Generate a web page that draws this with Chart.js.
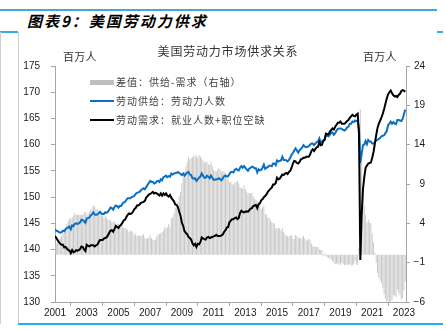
<!DOCTYPE html>
<html>
<head>
<meta charset="utf-8">
<script src="https://cdn.jsdelivr.net/npm/chart.js@4"></script>
<style>
  body { margin: 0; width: 446px; height: 330px; background: #fff; position: relative; overflow: hidden;
         font-family: 'Noto Sans CJK SC', sans-serif; }
  #chart { position: absolute; left: 0; top: 0; }
  .rule { position: absolute; background: #3fa8e0; }
  .vline { position: absolute; width: 1px; background: #cfcfcf; }
  #title { position: absolute; left: 27px; top: 11px; font-size: 15px; font-weight: bold; font-style: italic;
           letter-spacing: 2px; color: #000; line-height: 20px; }
  #chartTitle { position: absolute; left: 0; width: 456px; top: 43px; text-align: center; font-size: 12px;
                letter-spacing: 0.8px; color: #333; line-height: 16px; }
  .unit { position: absolute; top: 49px; font-size: 11px; letter-spacing: 0.3px; color: #333; line-height: 14px; }
  #legend { position: absolute; left: 90px; top: 72px; }
  .legend-row { height: 19px; line-height: 19px; font-size: 10px; letter-spacing: 1px; color: #404040; white-space: nowrap; }
  .swatch { display: inline-block; width: 24px; vertical-align: middle; margin-right: 2px; position: relative; top: -1px; }
</style>
</head>
<body>
<div class="rule" style="left:0; top:9px; width:437px; height:2px;"></div>
<div id="title">图表9：美国劳动力供求</div>
<div class="rule" style="left:0; top:31px; width:18px; height:2px;"></div>
<div class="rule" style="left:437px; top:31px; width:6px; height:2px;"></div>
<div class="vline" style="left:0; top:32px; height:292px;"></div>
<div class="vline" style="left:18px; top:32px; height:292px;"></div>
<div class="rule" style="left:18px; top:323px; width:425px; height:2px; background:#22b0ea;"></div>

<canvas id="chart" width="446" height="330"></canvas>
<div id="chartTitle">美国劳动力市场供求关系</div>
<div class="unit" style="left:63px;">百万人</div>
<div class="unit" style="left:363px;">百万人</div>
<div id="legend"></div>

<script>
// 月度数据，2001年1月起 (百万人)
const startYear = 2001;

// 劳动供给：劳动力人数
const laborSupply = [
  143.8, 143.6, 143.5, 143.3, 143.2, 143.3, 143.6, 143.5, 143.9, 144.1, 144.2, 144.4,
  143.9, 144.6, 144.5, 144.9, 145.0, 144.9, 145.0, 145.2, 145.7, 145.6, 145.4, 145.1,
  145.9, 146.0, 146.1, 146.5, 146.7, 147.1, 146.7, 146.6, 146.7, 146.9, 147.2, 146.9,
  146.8, 146.8, 147.1, 147.0, 147.2, 147.6, 148.0, 147.9, 147.6, 148.1, 148.4, 148.3,
  148.0, 148.3, 148.3, 148.7, 149.0, 149.1, 149.5, 149.8, 149.8, 149.8, 150.0, 150.1,
  150.2, 150.6, 150.8, 150.9, 151.0, 151.3, 151.5, 151.7, 151.5, 151.9, 152.3, 152.7,
  153.1, 152.9, 152.9, 152.6, 152.7, 153.0, 153.1, 152.9, 153.4, 153.2, 153.8, 153.9,
  154.1, 153.8, 154.0, 153.9, 154.5, 154.3, 154.5, 154.6, 154.6, 154.8, 154.6, 154.4,
  154.2, 154.5, 154.1, 154.4, 154.7, 154.8, 154.3, 154.2, 153.6, 153.5, 153.6, 153.1,
  153.4, 153.7, 153.9, 154.5, 154.1, 153.7, 153.7, 154.1, 153.9, 153.6, 154.1, 153.7,
  153.3, 153.3, 153.4, 153.4, 153.6, 153.4, 153.2, 153.6, 154.0, 154.1, 153.9, 154.0,
  154.4, 154.8, 154.8, 154.7, 155.2, 155.4, 155.2, 155.1, 155.6, 155.9, 155.6, 155.9,
  155.6, 155.3, 155.0, 155.4, 155.6, 155.8, 155.7, 155.5, 155.5, 154.7, 155.3, 155.1,
  155.2, 155.6, 156.2, 155.4, 155.6, 155.7, 156.0, 156.0, 155.9, 156.4, 156.4, 156.1,
  157.0, 156.8, 156.9, 157.0, 157.7, 157.1, 157.1, 157.0, 156.8, 157.1, 157.5, 158.1,
  158.4, 158.9, 159.3, 158.9, 158.5, 158.9, 159.2, 159.5, 159.9, 159.6, 159.5, 159.6,
  159.7, 160.0, 160.2, 160.2, 159.9, 160.2, 160.5, 160.6, 161.2, 160.5, 160.6, 160.6,
  161.1, 161.9, 161.7, 161.6, 161.9, 162.3, 162.3, 161.9, 162.2, 162.7, 163.0, 163.1,
  163.1, 163.0, 162.8, 162.7, 162.9, 163.3, 163.4, 164.0, 164.0, 164.4, 164.3, 164.6,
  164.5, 164.6, 162.9, 156.5, 158.2, 159.9, 160.0, 160.7, 160.1, 160.9, 160.6, 160.6,
  160.2, 160.2, 160.5, 160.8, 160.9, 161.1, 161.3, 161.6, 161.7, 161.8, 162.2, 162.6,
  163.7, 164.0, 164.4, 164.0, 164.3, 164.0, 163.9, 164.7, 164.7, 164.6, 164.5, 164.9,
  165.8, 166.7
];

// 劳动需求：就业人数+职位空缺
const laborDemand = [
  142.6, 142.2, 141.8, 141.4, 141.1, 140.9, 140.9, 140.4, 140.5, 140.2, 139.9, 139.8,
  139.3, 139.9, 139.5, 139.6, 139.9, 139.8, 139.9, 140.1, 140.6, 140.5, 140.0, 139.7,
  140.9, 140.7, 140.6, 140.8, 140.8, 140.8, 140.6, 140.8, 140.9, 141.4, 141.8, 141.8,
  141.8, 142.1, 142.2, 142.3, 142.7, 143.2, 143.6, 143.7, 143.4, 143.9, 144.5, 144.3,
  144.1, 144.5, 144.7, 145.1, 145.6, 145.7, 146.2, 146.6, 146.9, 146.8, 146.9, 147.2,
  147.7, 147.9, 148.4, 148.4, 148.6, 148.9, 149.0, 149.1, 149.3, 149.9, 150.2, 150.5,
  150.6, 150.8, 151.0, 150.7, 150.8, 150.7, 150.5, 150.3, 150.7, 150.3, 150.7, 150.4,
  150.7, 150.3, 150.1, 150.4, 149.9, 149.5, 149.2, 148.6, 148.5, 148.1, 147.2, 146.4,
  145.1, 144.5, 143.5, 143.2, 142.9, 142.4, 142.2, 141.9, 141.2, 140.8, 141.1, 140.5,
  141.1, 141.0, 141.4, 142.3, 142.1, 142.0, 141.9, 142.3, 142.4, 142.2, 142.3, 142.4,
  142.5, 142.6, 142.8, 142.6, 142.6, 142.6, 142.7, 142.9, 143.4, 143.7, 144.2, 144.3,
  145.2, 145.5, 145.8, 145.8, 146.0, 146.1, 145.8, 146.0, 147.0, 147.4, 147.2, 147.1,
  147.2, 147.3, 147.2, 147.5, 147.8, 147.9, 148.3, 148.4, 148.5, 147.9, 148.6, 148.8,
  149.4, 149.6, 150.0, 150.2, 150.5, 151.0, 151.3, 151.6, 151.8, 152.4, 152.4, 152.7,
  153.7, 153.4, 153.5, 153.9, 154.3, 154.2, 154.5, 154.6, 154.4, 154.8, 155.0, 155.6,
  156.4, 156.9, 156.8, 156.5, 156.4, 156.7, 157.2, 157.3, 157.5, 157.5, 157.7, 157.7,
  157.7, 158.1, 158.8, 159.1, 158.8, 159.2, 159.5, 159.6, 160.5, 159.9, 160.0, 160.8,
  160.9, 162.1, 162.0, 162.0, 162.5, 162.8, 163.1, 162.9, 163.4, 163.8, 164.2, 164.2,
  164.4, 164.0, 164.0, 164.0, 164.2, 164.5, 164.7, 165.1, 165.4, 165.7, 165.5, 165.4,
  165.7, 165.9, 162.0, 138.0, 146.5, 151.5, 153.8, 155.6, 156.0, 156.4, 156.5, 156.6,
  157.5, 158.6, 160.2, 161.8, 163.2, 164.0, 164.6, 165.2, 165.9, 166.8, 167.8, 168.8,
  169.6, 170.0, 170.3, 169.8, 169.4, 169.2, 169.3, 169.1, 169.5, 169.7, 170.2, 170.4,
  170.3, 170.1
];

// 差值：供给-需求（右轴）
const laborGap = [
  1.2, 1.4, 1.7, 1.9, 2.1, 2.4, 2.7, 3.1, 3.4, 3.9, 4.3, 4.6,
  4.6, 4.7, 5.0, 5.3, 5.1, 5.1, 5.1, 5.1, 5.1, 5.1, 5.4, 5.4,
  5.0, 5.3, 5.5, 5.7, 5.9, 6.3, 6.1, 5.8, 5.8, 5.5, 5.4, 5.1,
  5.0, 4.7, 4.9, 4.7, 4.5, 4.4, 4.4, 4.2, 4.2, 4.2, 3.9, 4.0,
  3.9, 3.8, 3.6, 3.6, 3.4, 3.4, 3.3, 3.2, 2.9, 3.0, 3.1, 2.9,
  2.5, 2.7, 2.4, 2.5, 2.4, 2.4, 2.5, 2.6, 2.2, 2.0, 2.1, 2.2,
  2.5, 2.1, 1.9, 1.9, 1.9, 2.3, 2.6, 2.6, 2.7, 2.9, 3.1, 3.5,
  3.4, 3.5, 3.9, 3.5, 4.6, 4.8, 5.3, 6.0, 6.1, 6.7, 7.4, 8.0,
  9.1, 10.0, 10.6, 11.2, 11.8, 12.4, 12.1, 12.3, 12.4, 12.7, 12.5, 12.6,
  12.3, 12.7, 12.5, 12.2, 12.0, 11.7, 11.8, 11.8, 11.5, 11.4, 11.8, 11.3,
  10.8, 10.7, 10.6, 10.8, 11.0, 10.8, 10.5, 10.7, 10.6, 10.4, 9.7, 9.7,
  9.2, 9.3, 9.0, 8.9, 9.2, 9.3, 9.4, 9.1, 8.6, 8.5, 8.4, 8.8,
  8.4, 8.0, 7.8, 7.9, 7.8, 7.9, 7.4, 7.1, 7.0, 6.8, 6.7, 6.3,
  5.8, 6.0, 6.2, 5.2, 5.1, 4.7, 4.7, 4.4, 4.1, 4.0, 4.0, 3.4,
  3.3, 3.4, 3.4, 3.1, 3.4, 2.9, 2.6, 2.4, 2.4, 2.3, 2.5, 2.5,
  2.0, 2.0, 2.5, 2.4, 2.1, 2.2, 2.0, 2.2, 2.4, 2.1, 1.8, 1.9,
  2.0, 1.9, 1.4, 1.1, 1.1, 1.0, 1.0, 1.0, 0.7, 0.6, 0.6, -0.2,
  0.2, -0.2, -0.3, -0.4, -0.6, -0.5, -0.8, -1.0, -1.2, -1.1, -1.2, -1.1,
  -1.3, -1.0, -1.2, -1.3, -1.3, -1.2, -1.3, -1.1, -1.4, -1.3, -1.2, -0.8,
  -1.2, -1.3, 0.9, 18.5, 11.7, 8.4, 6.2, 5.1, 4.1, 4.5, 4.1, 4.0,
  2.7, 1.6, 0.3, -1.0, -2.3, -2.9, -3.3, -3.6, -4.2, -5.0, -5.6, -6.2,
  -5.9, -6.0, -5.9, -5.8, -5.1, -5.2, -5.4, -4.4, -4.8, -5.1, -5.7, -5.5,
  -4.5, -3.4
];

const xTickYears = [2001, 2003, 2005, 2007, 2009, 2011, 2013, 2015, 2017, 2019, 2021, 2023];
const leftTicks = [130, 135, 140, 145, 150, 155, 160, 165, 170, 175];
const rightTicks = [-6, -1, 4, 9, 14, 19, 24];

const monthLabels = laborSupply.map((v, i) => startYear + i / 12);

const axisColor = '#a6a6a6';
const tickFont = { family: "'Liberation Sans', Arial, sans-serif", size: 10 };

const chart = new Chart(document.getElementById('chart'), {
    type: 'line',
    data: {
        labels: monthLabels,
        datasets: [
            {
                type: 'bar',
                label: '差值：供给-需求（右轴）',
                data: laborGap,
                yAxisID: 'y1',
                backgroundColor: '#c8c8c8',
                barPercentage: 0.9,
                categoryPercentage: 0.8,
                clip: 0,
                order: 3
            },
            {
                label: '劳动供给：劳动力人数',
                data: laborSupply,
                yAxisID: 'y',
                borderColor: '#0b6fc4',
                borderWidth: 2,
                pointRadius: 0,
                tension: 0,
                order: 2
            },
            {
                label: '劳动需求：就业人数+职位空缺',
                data: laborDemand,
                yAxisID: 'y',
                borderColor: '#000000',
                borderWidth: 2,
                pointRadius: 0,
                tension: 0,
                order: 1
            }
        ]
    },
    options: {
        responsive: false,
        animation: false,
        devicePixelRatio: 1,
        layout: { padding: { left: 20, right: 21, top: 66, bottom: 8 } },
        plugins: {
            legend: { display: false },
            tooltip: { enabled: false }
        },
        scales: {
            x: {
                type: 'linear',
                min: 2001,
                max: 2023.13,
                offset: false,
                afterBuildTicks: scale => { scale.ticks = xTickYears.map(v => ({ value: v })); },
                afterFit: scale => { scale.height = 20; },
                ticks: { font: tickFont, color: '#1a1a1a', padding: 1, maxRotation: 0, autoSkip: false,
                         callback: v => String(v) },
                grid: { drawOnChartArea: false, drawTicks: true, tickLength: 4, color: axisColor },
                border: { display: true, color: axisColor }
            },
            y: {
                position: 'left',
                min: 130,
                max: 175,
                afterBuildTicks: scale => { scale.ticks = leftTicks.map(v => ({ value: v })); },
                afterFit: scale => { scale.width = 35; },
                ticks: { font: tickFont, color: '#1a1a1a', padding: 11 },
                grid: { drawOnChartArea: false, drawTicks: true, tickLength: 4, color: axisColor },
                border: { display: true, color: axisColor }
            },
            y1: {
                position: 'right',
                min: -6,
                max: 24,
                afterBuildTicks: scale => { scale.ticks = rightTicks.map(v => ({ value: v })); },
                afterFit: scale => { scale.width = 19; },
                ticks: { font: tickFont, color: '#1a1a1a', padding: 2, crossAlign: 'far',
                         callback: v => String(v).replace('-', '\u2212') },
                grid: { drawOnChartArea: false, drawTicks: true, tickLength: 4, color: axisColor },
                border: { display: true, color: axisColor }
            }
        }
    }
});

// 图例（放在绘图区内左上角）
const legendDiv = document.getElementById('legend');
legendDiv.innerHTML = chart.data.datasets.map(ds => {
    const isBar = ds.type === 'bar';
    const color = isBar ? '#bfbfbf' : ds.borderColor;
    const h = isBar ? 5 : 2;
    return `<div class="legend-row"><span class="swatch" style="height:${h}px;background:${color};"></span>${ds.label}</div>`;
}).join('');
</script>
</body>
</html>
